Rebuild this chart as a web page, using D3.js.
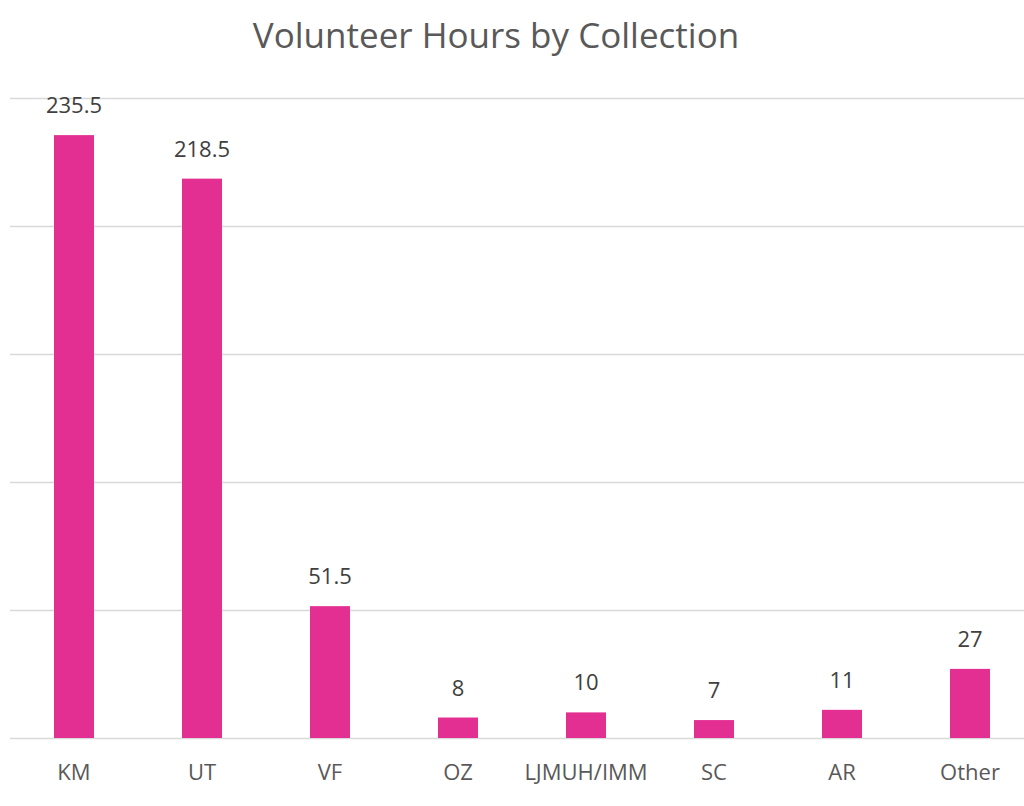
<!DOCTYPE html>
<html lang="en">
<head>
    <meta charset="UTF-8">
    <title>Volunteer Hours by Collection</title>
    <script src="https://d3js.org/d3.v7.min.js"></script>
    <style>
        body, html {
            margin: 0;
            padding: 0;
            overflow: hidden;
            background: #ffffff;
        }
        svg {
            display: block;
        }
        text {
            font-family: "Open Sans", "Noto Sans", sans-serif;
        }
        .grid line {
            stroke: #d9d9d9;
            stroke-width: 1.5px;
        }
        .grid path {
            display: none;
        }
        .value-label {
            font-size: 22px;
            fill: #404040;
        }
        .cat-label {
            font-size: 22px;
            fill: #595959;
        }
        .title {
            font-size: 35px;
            fill: #595959;
        }
    </style>
</head>
<body>
<svg></svg>

<script>
    const categories = ['KM', 'UT', 'VF', 'OZ', 'LJMUH/IMM', 'SC', 'AR', 'Other'];
    const hours = [235.5, 218.5, 51.5, 8, 10, 7, 11, 27];
    const gridTicks = [0, 50, 100, 150, 200, 250];

    const width = 1024;
    const height = 806;
    const margin = { top: 98, right: -10, bottom: 68, left: 10 };

    const svg = d3.select('svg')
        .attr('width', width)
        .attr('height', height);

    const x = d3.scaleBand()
        .domain(categories)
        .range([margin.left, width - margin.right])
        .paddingInner(0.6875)
        .paddingOuter(0.34375);

    const y = d3.scaleLinear()
        .domain([0, 250])
        .range([height - margin.bottom, margin.top]);

    // gridlines
    svg.append('g')
        .attr('class', 'grid')
        .attr('transform', `translate(${margin.left},0)`)
        .call(d3.axisLeft(y)
            .tickValues(gridTicks)
            .tickSize(-(width - margin.left))
            .tickFormat(''));

    svg.append('g')
        .selectAll('rect')
        .data(hours)
        .enter().append('rect')
        .attr('x', (d, i) => x(categories[i]))
        .attr('y', d => y(d))
        .attr('width', x.bandwidth())
        .attr('height', d => y(0) - y(d))
        .attr('fill', '#e32f91');

    svg.append('g')
        .selectAll('text')
        .data(hours)
        .enter().append('text')
        .attr('class', 'value-label')
        .attr('x', (d, i) => x(categories[i]) + x.bandwidth() / 2)
        .attr('y', d => y(d) - 22)
        .attr('text-anchor', 'middle')
        .text(d => d);

    svg.append('g')
        .selectAll('text')
        .data(categories)
        .enter().append('text')
        .attr('class', 'cat-label')
        .attr('x', d => x(d) + x.bandwidth() / 2)
        .attr('y', 780)
        .attr('text-anchor', 'middle')
        .text(d => d);

    svg.append('text')
        .attr('class', 'title')
        .attr('x', 496)
        .attr('y', 48)
        .attr('text-anchor', 'middle')
        .text('Volunteer Hours by Collection');
</script>
</body>
</html>
